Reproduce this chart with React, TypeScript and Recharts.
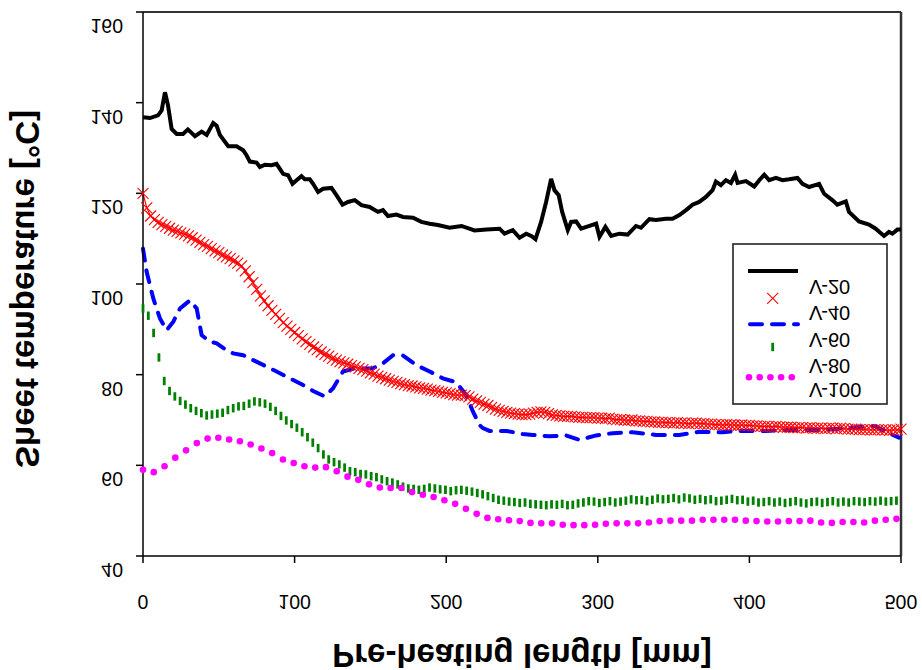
import React from "react";
import { LineChart, Line, XAxis, YAxis, ReferenceLine, Legend } from "recharts";

// ---------- data ----------
const X_TICKS = [0, 100, 200, 300, 400, 500];
const Y_TICKS = [40, 60, 80, 100, 120, 140, 160];
const SERIES_NAMES = ["V-20", "V-40", "V-60", "V-80", "V-100"];
const X_TITLE = "Pre-heating length [mm]";
const Y_TITLE = "Sheet temperature [°C]";

// V-20: [mm, °C]
const V20_POINTS: [number, number][] = [
  [0, 136.8], [4.6, 136.6], [9.9, 137.2], [12.3, 138.3], [14.5, 142.3], [16.5, 139.4], [18.9, 134.2],
  [22.2, 133.1], [26.4, 133.1], [29.6, 134.1], [34.3, 132.6], [38.7, 133.6], [42.0, 132.9], [46.3, 135.5],
  [48.6, 134.9], [50.7, 132.9], [56.2, 130.4], [61.7, 130.4], [66.1, 129.5], [68.3, 128.4], [70.5, 127.0],
  [74.9, 126.8], [77.1, 125.8], [80.4, 126.3], [84.8, 126.2], [88.1, 126.5], [90.3, 125.4], [92.4, 124.3],
  [95.7, 124.0], [98.6, 122.1], [101.3, 122.9], [104.5, 123.8], [106.7, 123.1], [110.0, 123.1], [112.2, 122.1],
  [115.5, 120.3], [118.8, 121.0], [124.3, 121.2], [127.6, 119.6], [131.6, 117.5], [135.2, 118.1], [139.7, 118.5],
  [144.1, 117.4], [149.5, 117.0], [155.0, 115.9], [158.3, 116.3], [161.6, 115.0], [167.1, 115.3], [171.5, 114.8],
  [178.1, 114.6], [183.6, 113.7], [189.1, 113.3], [194.5, 113.0], [202.2, 112.4], [210.1, 112.8], [218.7, 111.8],
  [226.6, 112.0], [235.2, 112.2], [238.5, 111.1], [243.9, 111.9], [248.4, 110.2], [252.8, 111.1], [256.1, 110.6],
  [258.9, 109.9], [262.6, 113.7], [265.9, 118.1], [269.2, 123.2], [271.4, 120.7], [274.2, 119.6], [276.5, 115.9],
  [280.2, 111.9], [282.4, 113.7], [285.7, 113.8], [289.0, 112.2], [294.5, 112.8], [298.9, 113.3], [301.1, 110.4],
  [305.0, 112.6], [308.8, 110.6], [314.2, 111.1], [319.7, 110.9], [325.2, 112.8], [328.5, 112.4], [334.0, 114.3],
  [338.4, 114.1], [345.0, 114.4], [349.3, 114.4], [353.8, 115.2], [358.2, 116.3], [362.5, 117.5], [366.9, 118.1],
  [371.3, 119.2], [375.7, 120.7], [377.9, 122.6], [381.2, 121.8], [384.5, 122.9], [387.8, 122.3], [390.6, 124.1],
  [392.2, 122.3], [397.7, 122.7], [403.2, 121.5], [406.5, 122.9], [409.8, 124.1], [413.0, 122.9], [417.5, 123.4],
  [421.8, 122.9], [426.2, 123.1], [431.7, 123.4], [435.0, 122.1], [439.4, 121.4], [446.0, 122.1], [449.3, 119.9],
  [454.7, 118.5], [458.0, 117.5], [463.6, 118.2], [465.7, 115.9], [472.3, 113.8], [478.9, 113.1], [483.3, 112.2],
  [488.8, 110.6], [492.1, 111.5], [494.3, 111.1], [497.6, 112.0], [500, 112.0],
];

// V-40: one value every 2.5 mm
const V40_STEP = 2.5;
const V40_TEMP = [
  120.0, 116.8, 115.0, 114.2, 113.6, 113.1, 112.7, 112.3, 111.9, 111.6,
  111.3, 111.0, 110.6, 110.2, 109.7, 109.2, 108.7, 108.3, 107.8, 107.3,
  106.9, 106.4, 106.0, 105.6, 105.1, 104.6, 104.0, 102.9, 101.6, 100.3,
  98.8, 97.4, 96.3, 95.2, 94.2, 93.3, 92.4, 91.5, 90.7, 90.0,
  89.3, 88.6, 87.9, 87.3, 86.7, 86.1, 85.5, 85.0, 84.5, 84.1,
  83.6, 83.2, 82.9, 82.6, 82.3, 82.0, 81.7, 81.4, 81.1, 80.8,
  80.4, 80.1, 79.7, 79.4, 79.1, 78.8, 78.5, 78.3, 78.0, 77.8,
  77.6, 77.5, 77.3, 77.1, 77.0, 76.8, 76.6, 76.5, 76.3, 76.1,
  76.0, 75.8, 75.6, 75.5, 75.5, 75.4, 75.1, 74.6, 74.2, 73.9,
  73.5, 73.2, 72.8, 72.4, 72.1, 71.9, 71.7, 71.5, 71.4, 71.3,
  71.2, 71.2, 71.3, 71.5, 71.7, 71.8, 71.7, 71.4, 71.1, 71.0,
  70.9, 70.8, 70.8, 70.8, 70.7, 70.6, 70.6, 70.5, 70.5, 70.5,
  70.4, 70.4, 70.3, 70.4, 70.2, 70.1, 70.1, 70.0, 69.9, 70.0,
  69.8, 69.8, 69.7, 69.7, 69.6, 69.6, 69.5, 69.5, 69.4, 69.4,
  69.3, 69.4, 69.3, 69.3, 69.2, 69.3, 69.3, 69.2, 69.2, 69.1,
  69.1, 69.0, 69.0, 68.9, 69.0, 68.9, 68.9, 68.8, 68.9, 68.8,
  68.8, 68.7, 68.7, 68.6, 68.6, 68.6, 68.5, 68.6, 68.5, 68.4,
  68.4, 68.4, 68.3, 68.3, 68.3, 68.2, 68.3, 68.2, 68.2, 68.2,
  68.1, 68.2, 68.2, 68.1, 68.2, 68.1, 68.0, 68.0, 68.0, 67.9,
  67.9, 67.9, 67.8, 67.8, 67.9, 67.8, 67.8, 67.7, 67.8, 67.8,
  68.0,
];

// V-60: [mm, °C]
const V60_POINTS: [number, number][] = [
  [0, 107.8], [2.4, 102.7], [6.8, 96.8], [11.2, 92.4], [15.6, 89.8], [20.0, 91.7], [24.4, 94.6], [31.0, 96.4],
  [35.4, 94.6], [38.7, 88.7], [44.1, 87.3], [48.6, 86.9], [55.1, 85.4], [59.5, 84.7], [66.1, 84.3], [72.7, 83.2],
  [81.5, 81.8], [88.1, 80.7], [96.8, 79.2], [105.6, 77.7], [112.2, 76.4], [119.9, 75.2], [125.4, 77.0],
  [131.9, 80.7], [138.5, 81.3], [151.7, 81.4], [158.3, 82.5], [164.9, 84.3], [171.5, 84.2], [180.3, 82.1],
  [189.1, 80.7], [197.8, 79.2], [206.7, 78.3], [213.2, 75.5], [217.6, 71.9], [222.0, 68.9], [224.2, 68.2],
  [228.6, 67.6], [239.6, 67.6], [250.5, 66.9], [257.1, 66.7], [268.1, 66.4], [279.1, 66.6], [287.9, 65.6],
  [298.9, 66.6], [309.8, 67.1], [323.0, 67.3], [338.4, 66.7], [353.8, 66.7], [366.9, 67.4], [382.3, 67.3],
  [393.3, 67.6], [410.9, 67.6], [426.2, 67.8], [448.1, 67.8], [463.6, 68.2], [476.7, 68.6], [483.3, 68.6],
  [489.9, 67.4], [498.7, 66.1],
];

// V-80: one value every 3.5 mm
const V80_STEP = 3.5;
const V80_TEMP = [
  94.6, 93.0, 89.2, 83.8, 78.6, 76.4, 75.2, 74.2, 73.4, 72.6,
  72.0, 71.5, 71.0, 71.2, 71.4, 71.6, 72.2, 72.6, 73.0, 73.1,
  73.6, 74.1, 73.9, 73.6, 72.9, 72.0, 70.9, 69.9, 69.1, 68.3,
  67.3, 66.2, 65.0, 63.8, 62.4, 61.3, 60.7, 60.2, 59.5, 58.7,
  58.5, 58.1, 58.0, 57.6, 57.4, 56.9, 56.5, 56.2, 55.8, 55.3,
  54.9, 54.8, 54.6, 54.8, 55.1, 54.9, 54.7, 54.6, 54.3, 54.5,
  54.6, 54.4, 54.2, 53.9, 53.6, 53.2, 52.8, 52.4, 52.2, 52.0,
  51.9, 51.7, 51.8, 51.5, 51.4, 51.3, 51.2, 51.4, 51.3, 51.5,
  51.2, 51.3, 51.6, 51.8, 52.1, 52.0, 51.7, 51.9, 52.1, 51.8,
  52.0, 52.2, 52.5, 52.3, 52.4, 52.1, 52.4, 52.7, 52.5, 52.6,
  52.8, 52.5, 52.9, 52.7, 52.4, 52.6, 52.3, 52.5, 52.1, 52.2,
  52.4, 52.6, 52.3, 52.4, 52.0, 52.2, 51.8, 51.9, 52.1, 51.8,
  52.0, 51.7, 51.9, 52.1, 51.8, 51.6, 51.9, 52.0, 51.7, 51.9,
  52.1, 51.8, 52.0, 51.8, 52.1, 52.0, 51.9, 52.1, 52.0, 52.2,
  52.0, 52.1, 52.2,
];

// V-100: one value every 7.1 mm
const V100_STEP = 7.1;
const V100_TEMP = [
  59.0, 58.5, 59.8, 61.7, 63.3, 64.9, 65.9, 66.1, 65.7, 65.3,
  64.6, 63.7, 62.7, 61.3, 60.5, 59.8, 59.5, 59.6, 58.7, 57.5,
  56.8, 55.8, 55.1, 55.0, 55.0, 54.1, 53.5, 53.0, 52.3, 51.5,
  50.4, 49.3, 48.4, 48.1, 47.9, 47.7, 47.3, 47.2, 47.2, 46.9,
  46.8, 46.8, 46.9, 47.1, 47.2, 47.2, 47.2, 47.4, 47.7, 47.8,
  47.8, 47.8, 48.0, 48.0, 48.0, 48.0, 47.8, 47.7, 47.6, 47.6,
  47.7, 47.7, 47.8, 47.4, 47.3, 47.5, 47.5, 47.4, 47.8, 48.0, 48.2,
];

// ---------- table building ----------
const fromPairs = (p: [number, number][]) => p.map(([x, y]) => ({ x, y }));
const fromSteps = (step: number, vals: number[]) =>
  vals.map((y, i) => ({ x: Math.round(i * step * 100) / 100, y }));

const v20Data = fromPairs(V20_POINTS);
const v40Data = fromSteps(V40_STEP, V40_TEMP);
const v60Data = fromPairs(V60_POINTS);
const v80Data = fromSteps(V80_STEP, V80_TEMP);
const v100Data = fromSteps(V100_STEP, V100_TEMP);

const FONT = "'Liberation Sans', Arial, sans-serif";
const RED = "#ff0000";
const BLUE = "#0000ff";
const GREEN = "#008000";
const MAGENTA = "#ff00ff";

// ---------- marks ----------
const XMark = (props: any) => {
  const { cx, cy } = props;
  if (cx == null || cy == null) return null;
  const s = 5.5;
  return (
    <g>
      <line x1={cx - s} y1={cy - s} x2={cx + s} y2={cy + s} stroke={RED} strokeWidth={1.1} />
      <line x1={cx - s} y1={cy + s} x2={cx + s} y2={cy - s} stroke={RED} strokeWidth={1.1} />
    </g>
  );
};
const BarMark = (props: any) => {
  const { cx, cy } = props;
  if (cx == null || cy == null) return null;
  return <rect x={cx - 1.4} y={cy - 4.2} width={2.8} height={8.4} fill={GREEN} />;
};
const DotMark = (props: any) => {
  const { cx, cy } = props;
  if (cx == null || cy == null) return null;
  return <circle cx={cx} cy={cy} r={3.3} fill={MAGENTA} />;
};

// flipped text (mirrored across its own baseline)
const FlipText = ({ x, y, anchor, size, bold, rotate, children }: any) => (
  <text
    transform={`translate(${x},${y})${rotate ? ` rotate(${rotate})` : ""} scale(1,-1)`}
    textAnchor={anchor}
    fontFamily={FONT}
    fontSize={size}
    fontWeight={bold ? "bold" : "normal"}
    fill="#000"
  >
    {children}
  </text>
);

const XTick = (props: any) => (
  <FlipText x={props.x} y={props.y + 32} anchor="middle" size={19.5}>
    {props.payload.value}
  </FlipText>
);
const YTick = (props: any) => (
  <FlipText x={props.x - 13} y={props.y + 7} anchor="end" size={19.5}>
    {props.payload.value}
  </FlipText>
);

const LegendBox = () => {
  const textX = 77;
  const texts = [37, 63, 90, 116, 140];
  return (
    <svg width={158} height={164} style={{ display: "block", overflow: "visible" }}>
      <rect x={1} y={1} width={154} height={160} fill="#fff" stroke="#222" strokeWidth={1.6} />
      <line x1={16} y1={28} x2={66} y2={28} stroke="#000" strokeWidth={3.8} />
      <XMark cx={40.7} cy={55.3} />
      <line x1={18} y1={81.3} x2={66} y2={81.3} stroke={BLUE} strokeWidth={4} strokeDasharray="12 10" strokeLinecap="round" />
      <BarMark cx={40.7} cy={104} />
      {[17, 27.7, 38.4, 49.1, 59.8].map((dx) => (
        <DotMark key={dx} cx={dx} cy={134.3} />
      ))}
      {SERIES_NAMES.map((n, i) => (
        <FlipText key={n} x={textX} y={texts[i]} anchor="start" size={20}>
          {n}
        </FlipText>
      ))}
    </svg>
  );
};

export default function App() {
  return (
    <div style={{ position: "absolute", left: 0, top: 0, width: 922, height: 670, background: "#fff" }}>
      <LineChart width={922} height={670} margin={{ top: 12, right: 21, bottom: 0, left: 0 }}>
        <XAxis
          type="number"
          dataKey="x"
          domain={[0, 500]}
          ticks={X_TICKS}
          interval={0}
          height={114}
          tickSize={7}
          tickMargin={0}
          axisLine={{ stroke: "#000", strokeWidth: 1.5 }}
          tickLine={{ stroke: "#000", strokeWidth: 1.5 }}
          tick={<XTick />}
          allowDuplicatedCategory={false}
          label={{
            content: () => (
              <FlipText x={522} y={644} anchor="middle" size={33} bold>
                {X_TITLE}
              </FlipText>
            ),
          }}
        />
        <YAxis
          type="number"
          domain={[40, 160]}
          ticks={Y_TICKS}
          interval={0}
          width={143}
          tickSize={7}
          tickMargin={0}
          axisLine={{ stroke: "#000", strokeWidth: 1.5 }}
          tickLine={{ stroke: "#000", strokeWidth: 1.5 }}
          tick={<YTick />}
          label={{
            content: () => (
              <FlipText x={16} y={289} anchor="middle" size={33} bold rotate={-90}>
                {Y_TITLE}
              </FlipText>
            ),
          }}
        />
        <ReferenceLine y={160} stroke="#333" strokeWidth={2} />
        <ReferenceLine x={500} stroke="#333" strokeWidth={2.5} />
        <Line data={v20Data} dataKey="y" name={SERIES_NAMES[0]} type="linear" stroke="#000" strokeWidth={4} dot={false} isAnimationActive={false} />
        <Line data={v40Data} dataKey="y" name={SERIES_NAMES[1]} type="linear" stroke={RED} strokeWidth={1.2} dot={<XMark />} isAnimationActive={false} />
        <Line data={v60Data} dataKey="y" name={SERIES_NAMES[2]} type="linear" stroke={BLUE} strokeWidth={4} strokeDasharray="12 10" strokeLinecap="round" dot={false} isAnimationActive={false} />
        <Line data={v80Data} dataKey="y" name={SERIES_NAMES[3]} type="linear" stroke="none" dot={<BarMark />} isAnimationActive={false} />
        <Line data={v100Data} dataKey="y" name={SERIES_NAMES[4]} type="linear" stroke="none" dot={<DotMark />} isAnimationActive={false} />
        <Legend
          layout="horizontal"
          verticalAlign="middle"
          align="center"
          content={() => <LegendBox />}
          wrapperStyle={{ left: 732, top: 243, width: 158, height: 164 }}
        />
      </LineChart>
    </div>
  );
}
